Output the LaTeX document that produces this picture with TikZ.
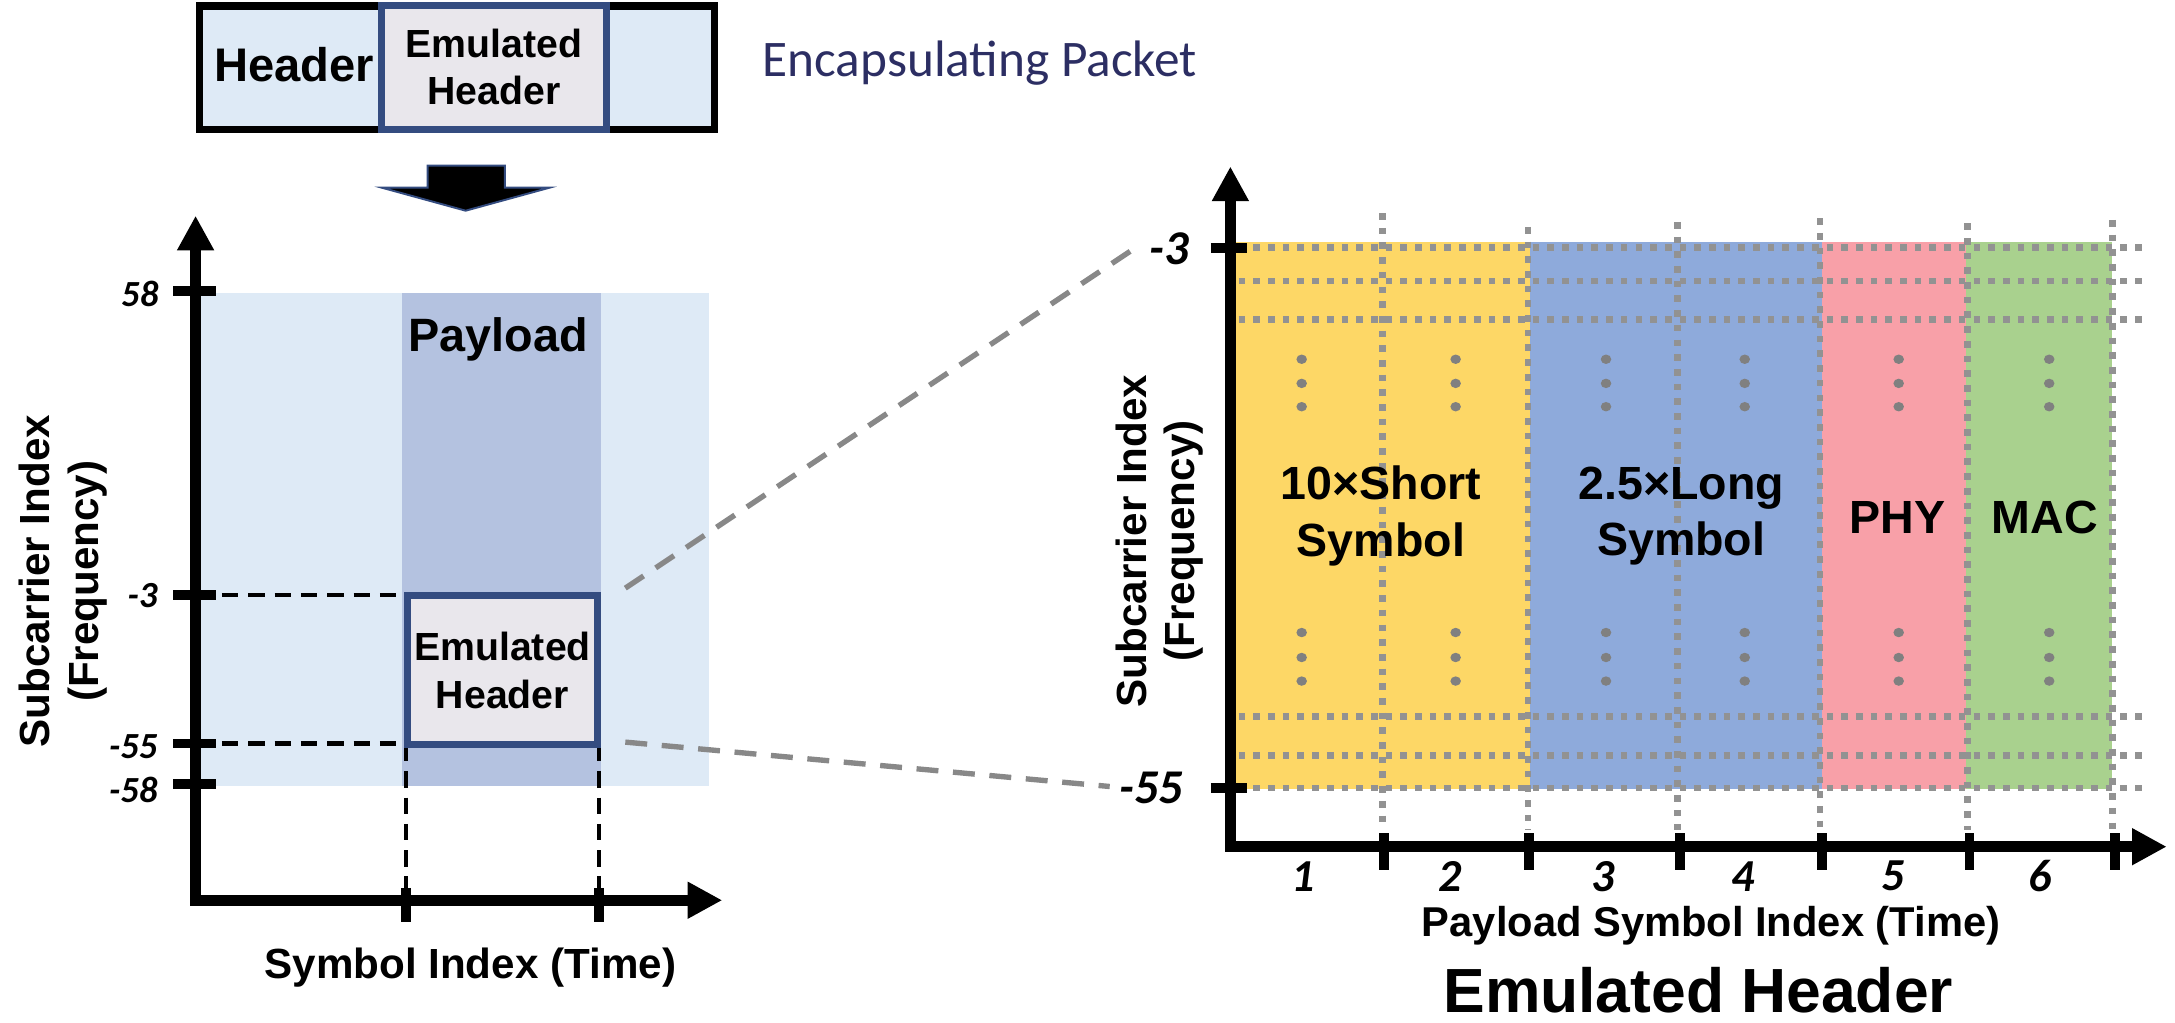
\documentclass[tikz,border=0pt]{standalone}
\usepackage{fontspec}
\setmainfont{Liberation Sans}
\newfontfamily\calfont{Carlito}
\usetikzlibrary{arrows.meta}
\definecolor{lblue}{RGB}{222,234,246}
\definecolor{bandblue}{RGB}{180,194,224}
\definecolor{ehfill}{RGB}{233,231,236}
\definecolor{ehborder}{RGB}{52,76,128}
\definecolor{navytext}{RGB}{44,46,99}
\definecolor{cyellow}{RGB}{253,215,102}
\definecolor{cblue}{RGB}{142,170,219}
\definecolor{cpink}{RGB}{248,160,168}
\definecolor{cgreen}{RGB}{169,209,142}
\definecolor{gridgrey}{RGB}{146,146,146}
\definecolor{dotgrey}{RGB}{128,128,128}
\definecolor{conngrey}{RGB}{136,136,136}
\newcommand{\myfs}[2]{\fontsize{#1pt}{#2pt}\selectfont}
\begin{document}
\begin{tikzpicture}[x=0.02cm, y=-0.02cm,
  axis/.style={line width=4.55pt, line join=miter,
    {Triangle[length=0.5cm,width=0.5cm]}-{Triangle[length=0.5cm,width=0.5cm]}},
  tickmark/.style={line width=4pt},
  gridline/.style={gridgrey, line width=2.73pt, dash pattern=on 2.73pt off 3.3pt},
  guide/.style={black, line width=1.65pt, dash pattern=on 6.8pt off 4pt},
  conn/.style={conngrey, line width=2.2pt, dash pattern=on 9pt off 6pt},
  txt/.style={inner sep=0pt, outer sep=0pt},
  blk/.style={txt, font=\bfseries\myfs{19.1}{23.2}, align=center},
  tickR/.style={txt, font=\calfont\bfseries\itshape\myfs{19.9}{22}},
  tickL/.style={txt, font=\calfont\bfseries\itshape\myfs{15.1}{18}},
  ylab/.style={txt, font=\bfseries\myfs{17.3}{19.9}, align=center, rotate=90},
  dotm/.style={dotgrey}
]
\useasboundingbox (0,0) rectangle (1568,737.5);

% ---------------- top packet ----------------
\draw[line width=3pt, fill=lblue] (143.9,4.3) rectangle (515.3,93.2);
\draw[line width=2.85pt, draw=ehborder, fill=ehfill] (275,4.3) rectangle (437,93.2);
\node[txt, anchor=base, font=\bfseries\myfs{19.35}{22}] (hdr) at (212,58.9) {Header};
\node[txt, align=center, font=\bfseries\myfs{16.1}{19.2}] (ehtop) at (356,48.5) {Emulated\\Header};
\node[txt, anchor=base west, text=navytext, font=\calfont\myfs{21.05}{24}] (encap) at (549.7,55.3) {Encapsulating Packet};

% down block arrow
\draw[fill=black, draw=ehborder, line width=0.8pt, line join=miter]
  (308.3,119.4) -- (364,119.4) -- (364,135.3) -- (396.2,135.3) -- (335.7,151.9)
  -- (275.2,135.3) -- (308.3,135.3) -- cycle;

% ---------------- left plot ----------------
\fill[lblue] (144.7,211.5) rectangle (511,566.4);
\fill[bandblue] (290,211.5) rectangle (433,566.4);
\node[txt, anchor=base, font=\bfseries\myfs{19.2}{22}] (payload) at (359,253.5) {Payload};

\coordinate (lyT) at (141,429);
\coordinate (lyB) at (141,536);
\coordinate (lxA) at (292.6,649);
\coordinate (lxB) at (431.6,649);
\draw[guide] (lyT) -- (293.5,429);
\draw[guide] (lyB) -- (307,536);
\draw[guide] (292.6,537) -- (lxA);
\draw[guide] (431.6,537) -- (lxB);

\node[draw=ehborder, line width=2.85pt, fill=ehfill, minimum width=137.5*0.02cm, minimum height=108*0.02cm,
  inner sep=0pt, align=center, font=\bfseries\myfs{16.1}{19.7}] (ehL) at (362.25,483) {Emulated\\Header};

% axes left
\coordinate (lorig) at (141,649);
\draw[axis] (141,155.5) -- (lorig) -- (520.7,649);
\draw[tickmark] (125,209.8) -- (155.5,209.8);
\draw[tickmark] (125,429) -- (155.5,429);
\draw[tickmark] (125,536) -- (155.5,536);
\draw[tickmark] (125,565.2) -- (155.5,565.2);
\draw[tickmark] (292.6,640) -- (292.6,665);
\draw[tickmark] (431.6,640) -- (431.6,665);
\node[tickL, anchor=east] (l58) at (114.2,211.7) {58};
\node[tickL, anchor=east] (lm3) at (113.6,429) {-3};
\node[tickL, anchor=east] (lm55) at (113.6,538.3) {-55};
\node[tickL, anchor=east] (lm58) at (113.6,569.6) {-58};
\node[ylab] (ylabL) at (45.4,419) {Subcarrier Index\\(Frequency)};
\node[txt, anchor=base, font=\bfseries\myfs{17.3}{20}] (xlabL) at (339,705.3) {Symbol Index (Time)};

% ---------------- right plot ----------------
\fill[cyellow] (890,174.2) rectangle (1103,568.9);
\fill[cblue] (1103,174.2) rectangle (1313.3,568.9);
\fill[cpink] (1313.3,174.2) rectangle (1417.2,568.9);
\fill[cgreen] (1417.2,174.2) rectangle (1522.6,568.9);

\foreach \gx/\gt in {996.5/153.6, 1101.5/163.6, 1209.5/160, 1312/157.3, 1418.5/161, 1523/158.6}
  \draw[gridline] (\gx,\gt) -- (\gx,598);
\foreach \gy in {178.6, 202.6, 230.5, 516.7, 544.8, 568}
  \draw[gridline] (893,\gy) -- (1545,\gy);

\foreach \dx in {938.4,1049.4,1157.8,1257.8,1368.8,1477.3}
  \foreach \dy in {259,276.4,293.2,456,474,491}
    \fill[dotm] (\dx,\dy) ellipse [x radius=0.076cm, y radius=0.068cm];

\node[blk] (short) at (995.5,372) {10×Short\\Symbol};
\node[blk] (long) at (1212,372) {2.5×Long\\Symbol};
\node[blk] (phy) at (1368,373) {PHY};
\node[blk] (mac) at (1474,373) {MAC};

% axes right
\coordinate (rorig) at (887,610.4);
\draw[axis] (887,120) -- (rorig) -- (1562,610.4);
\coordinate (rT) at (873,178.6);
\coordinate (rB) at (873,568);
\draw[tickmark] (rT) -- (899,178.6);
\draw[tickmark] (rB) -- (899,568);
\foreach \tx in {997.8,1102.5,1211,1313.3,1419.8,1524.8}
  \draw[tickmark] (\tx,600.6) -- (\tx,627.2);
\node[tickR, anchor=east] (rm3) at (857,179) {-3};
\node[tickR, anchor=east] (rm55) at (853,568) {-55};
\foreach \lx/\lt [count=\i] in {939.5/1,1045.4/2,1155.4/3,1256.4/4,1364.8/5,1470.7/6}
  \node[tickR, font=\calfont\bfseries\itshape\myfs{18.8}{22}] (xl\i) at (\lx,631.7) {\lt};
\node[txt, anchor=base, font=\bfseries\myfs{17.1}{20}] (xlabR) at (1233.5,674.8) {Payload Symbol Index (Time)};
\node[txt, anchor=base, font=\bfseries\myfs{25.6}{30}] (title) at (1224.3,730) {Emulated Header};
\node[ylab] (ylabR) at (835.8,390) {Subcarrier Index\\(Frequency)};

% ---------------- zoom connectors ----------------
\coordinate (cU0) at (450.8,424);
\coordinate (cU1) at (818,179);
\coordinate (cL0) at (450.8,535);
\coordinate (cL1) at (800,567);
\draw[conn] (cU0) -- (cU1);
\draw[conn] (cL0) -- (cL1);
\end{tikzpicture}
\end{document}
